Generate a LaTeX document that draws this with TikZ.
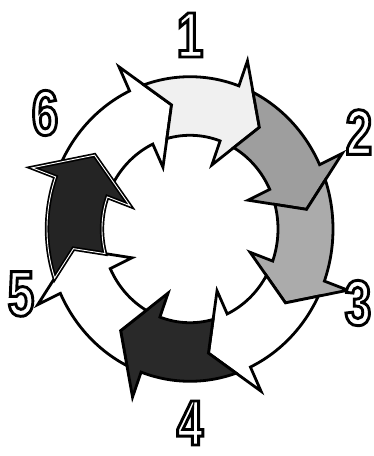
\documentclass[tikz,border=0pt]{standalone}
\usepackage{fontspec}
\usepackage{xcolor}
\usepackage{tikz}
\newfontfamily\digitfont[FakeStretch=0.74]{Liberation Sans}
\newcommand\hollow[1]{\special{pdf:literal direct 2 Tr 2.9 w 0 G 1 g}#1\special{pdf:literal direct 0 Tr}}

\begin{document}
\begin{tikzpicture}[x=1pt,y=1pt,
    ringarrow/.style={draw=black, line width=2.8pt, line join=miter},
    digit/.style={font=\digitfont\bfseries\fontsize{64}{64}\selectfont, inner sep=0pt, text=white}]
  \useasboundingbox (-190,-227) rectangle (183,229);
  \begin{scope}[yscale=1.065]
    \foreach \b/\fc in {115/white, 70/black!6, 25/black!38, -20/black!33, -65/white, -110/black!84, -155/white} {
      \pgfmathsetmacro{\p}{\b+45}
      \draw[ringarrow, fill=\fc] (\p-6.18:143) arc[start angle=\p-6.18, end angle=\b, radius=143]
        -- (\b:168) -- (\b-16:118) -- (\b:64) -- (\b:88)
        arc[start angle=\b, end angle=\p-9.78, radius=88] -- (\p-16:118) -- cycle;
    }
    \draw[ringarrow, line width=1.7pt, double=white, double distance=0.9pt, fill=black!86]
      (198.82:143) arc[start angle=198.82, end angle=160, radius=143]
      -- (160:168) -- (144:118) -- (160:64) -- (160:88)
      arc[start angle=160, end angle=195.22, radius=88] -- (189:118) -- cycle;
  \end{scope}
  \foreach \n/\pos in {1/{(0,194)},2/{(169,97)},3/{(168,-74)},4/{(0,-194)},5/{(-169,-65)},6/{(-145,116)}} {
    \node[digit] (lab\n) at \pos {\hollow{\n}};
  }
\end{tikzpicture}
\end{document}
